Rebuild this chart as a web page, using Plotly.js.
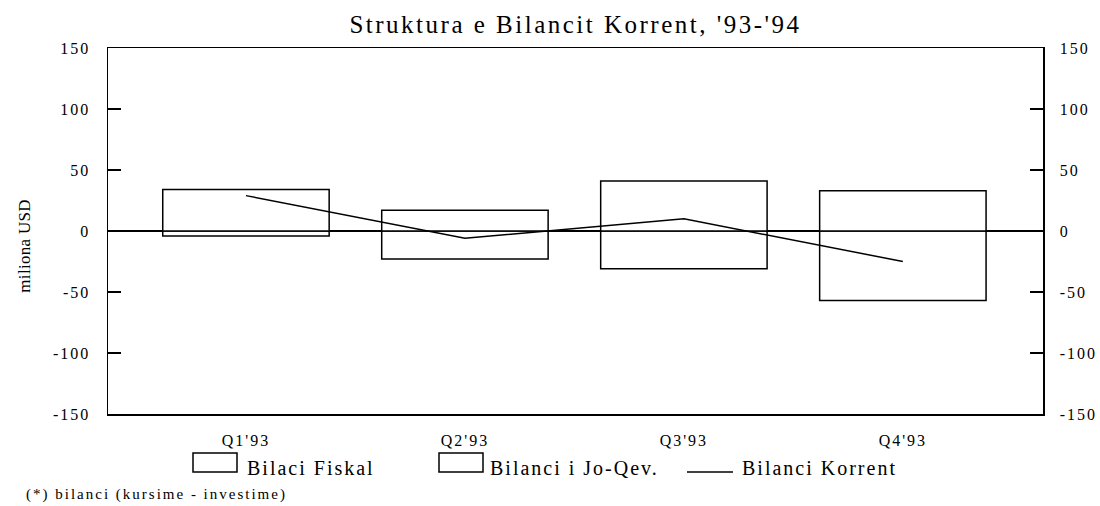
<!DOCTYPE html>
<html>
<head>
<meta charset="utf-8">
<script src="https://cdn.plot.ly/plotly-3.0.1.min.js"></script>
<style>
  html, body { margin: 0; padding: 0; background: #fff; }
  #chart { width: 1100px; height: 506px; }
  svg text { letter-spacing: 2px; }
  .gtitle { letter-spacing: 2.5px !important; }
  .annotation[data-index="4"] text { letter-spacing: 0.3px; }
</style>
</head>
<body>
<div id="chart"></div>
<script>
const categories = ["Q1'93", "Q2'93", "Q3'93", "Q4'93"];
const fiskal = [-4, -23, -31, -57];
const joQev = [34, 17, 41, 33];
const korrent = [29, -6, 10, -25];
const yTicks = [-150, -100, -50, 0, 50, 100, 150];
const titleText = "Struktura e Bilancit Korrent, '93-'94";
const yTitle = "miliona USD";
const legendNames = ["Bilaci Fiskal", "Bilanci i Jo-Qev.", "Bilanci Korrent"];
const footnote = "(*) bilanci (kursime - investime)";

const FONT = 'Liberation Serif, Times New Roman, serif';
const W = 1100, H = 506, ML = 108, MR = 57, MT = 48, MB = 92;
const PW = W - ML - MR, PH = H - MT - MB;
const px = x => (x - ML) / PW;
const py = y => (H - MB - y) / PH;

const barStyle = { color: '#ffffff', line: { color: '#000000', width: 1.5 } };

const traces = [
  { type: 'bar', name: legendNames[0], x: categories, y: fiskal, width: 0.76,
    marker: barStyle, showlegend: false },
  { type: 'bar', name: legendNames[1], x: categories, y: joQev, width: 0.76,
    marker: barStyle, showlegend: false },
  { type: 'scatter', mode: 'lines', name: legendNames[2], x: categories, y: korrent,
    line: { color: '#000000', width: 1.5 }, showlegend: false },
  { type: 'scatter', mode: 'lines', x: categories, y: korrent, yaxis: 'y2',
    line: { width: 0 }, opacity: 0, showlegend: false, hoverinfo: 'skip' }
];

const yCommon = {
  range: [-150, 150], tickvals: yTicks, ticktext: yTicks.map(String),
  ticks: 'inside', ticklen: 13, tickwidth: 1.5, tickcolor: '#000',
  showline: true, linecolor: '#000', linewidth: 1.5,
  showgrid: false, fixedrange: true,
  tickfont: { family: FONT, size: 16, color: '#000' }
};

const layout = {
  width: W, height: H,
  margin: { l: ML, r: MR, t: MT, b: MB, pad: 0 },
  paper_bgcolor: '#fff', plot_bgcolor: '#fff',
  barmode: 'relative',
  showlegend: false,
  title: { text: titleText, xref: 'paper', x: 0.5, xanchor: 'center', y: 1 - 24 / H, yanchor: 'middle',
           font: { family: FONT, size: 25, color: '#000' } },
  xaxis: {
    type: 'category', range: [-0.63, 3.64],
    showline: true, mirror: true, linecolor: '#000', linewidth: 1.5,
    ticks: '', showgrid: false, zeroline: false, ticklabelstandoff: 11,
    tickfont: { family: FONT, size: 16, color: '#000' }
  },
  yaxis: Object.assign({}, yCommon, {
    zeroline: true, zerolinecolor: '#000', zerolinewidth: 1.5, ticklabelstandoff: 13
  }),
  yaxis2: Object.assign({}, yCommon, {
    overlaying: 'y', side: 'right', zeroline: false, ticklabelstandoff: 12
  }),
  shapes: [
    { type: 'rect', xref: 'paper', yref: 'paper', x0: px(193), x1: px(237), y0: py(472), y1: py(453),
      line: { color: '#000', width: 1.5 }, fillcolor: '#fff' },
    { type: 'rect', xref: 'paper', yref: 'paper', x0: px(439), x1: px(483), y0: py(472), y1: py(453),
      line: { color: '#000', width: 1.5 }, fillcolor: '#fff' },
    { type: 'line', xref: 'paper', yref: 'paper', x0: px(687), x1: px(733), y0: py(472), y1: py(472),
      line: { color: '#000', width: 1.5 } }
  ],
  annotations: [
    { text: legendNames[0], xref: 'paper', yref: 'paper', x: px(245), y: py(468),
      xanchor: 'left', yanchor: 'middle', showarrow: false,
      font: { family: FONT, size: 20, color: '#000' } },
    { text: legendNames[1], xref: 'paper', yref: 'paper', x: px(488), y: py(468),
      xanchor: 'left', yanchor: 'middle', showarrow: false,
      font: { family: FONT, size: 20, color: '#000' } },
    { text: legendNames[2], xref: 'paper', yref: 'paper', x: px(740), y: py(468),
      xanchor: 'left', yanchor: 'middle', showarrow: false,
      font: { family: FONT, size: 20, color: '#000' } },
    { text: footnote, xref: 'paper', yref: 'paper', x: px(24), y: py(495),
      xanchor: 'left', yanchor: 'middle', showarrow: false,
      font: { family: FONT, size: 15, color: '#000' } },
    { text: yTitle, xref: 'paper', yref: 'paper', x: px(25), y: py(246),
      xanchor: 'center', yanchor: 'middle', textangle: -90, showarrow: false,
      font: { family: FONT, size: 17, color: '#000' } }
  ]
};

Plotly.newPlot('chart', traces, layout, { displayModeBar: false, staticPlot: true });
</script>
</body>
</html>
